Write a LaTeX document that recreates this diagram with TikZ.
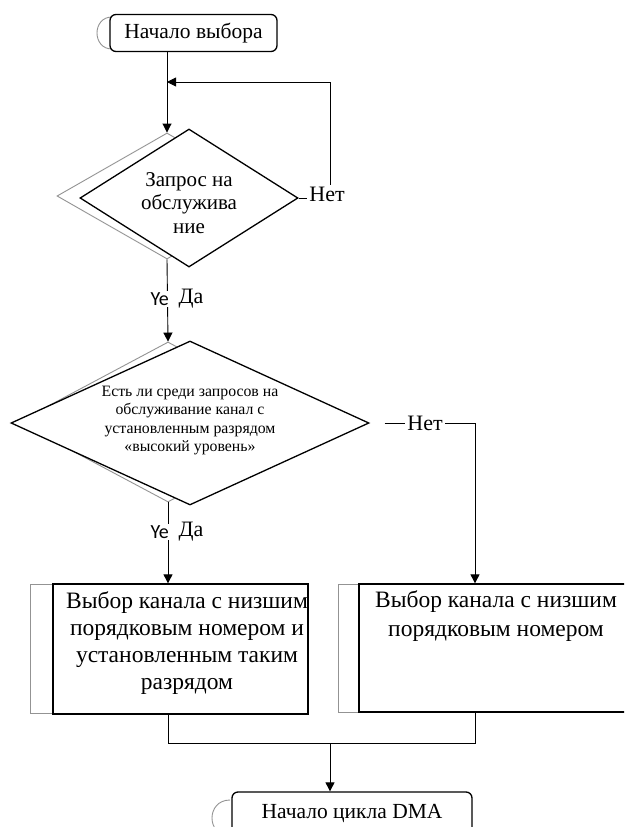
\documentclass[tikz,border=0pt]{standalone}
\usepackage{fontspec}
\setmainfont{Liberation Serif}
\newfontfamily\ghostfont{Carlito}
\usetikzlibrary{arrows.meta,shapes.geometric}
\begin{document}
\begin{tikzpicture}[x=1pt, y=-1pt, >={Triangle[length=9pt,width=9pt]},
  flow/.style={draw, line width=0.9pt},
  term/.style={draw, line width=1.3pt, rounded corners=6pt, fill=white, font=\fontsize{21.5}{24}\selectfont},
  decision/.style={diamond, draw, line width=1.3pt, fill=white, inner sep=0pt},
  procbox/.style={rectangle, draw, line width=1.3pt, fill=white, inner sep=0pt},
  ghost/.style={draw=gray!85, line width=0.9pt, inner sep=0pt},
  lbl/.style={fill=white, inner sep=2pt, font=\fontsize{22}{24}\selectfont},
  ghostlbl/.style={fill=white, inner sep=2pt, font=\ghostfont\fontsize{20}{22}\selectfont}]
\useasboundingbox (0,0) rectangle (624,827);
\clip (0,0) rectangle (624,827);
\fill[white] (0,0) rectangle (624,827);
\draw[ghost] (112,17) .. controls (92,17) and (92,49) .. (112,49);
\draw[ghost] (230,800) .. controls (206,800) and (206,836) .. (230,836);
\node[ghost, diamond, minimum width=220pt, minimum height=126pt] (q1) at (167,196) {};
\node[ghost, diamond, minimum width=300pt, minimum height=160pt] (q2) at (168,422) {};
\node[ghost, rectangle, minimum width=259pt, minimum height=129pt] (gbox1) at (160,648.5) {};
\node[ghost, rectangle, minimum width=262pt, minimum height=128pt] (gbox2) at (469,648) {};
\node[term, minimum width=167pt, minimum height=37pt] (start) at (193.5,33) {Начало выбора};
\node[decision, minimum width=218pt, minimum height=138pt] (d1) at (189,198) {};
\node[align=center, font=\fontsize{21}{23.5}\selectfont] (d1txt) at (189,203) {Запрос на\\обслужива\\ние};
\node[decision, minimum width=358pt, minimum height=164pt] (d2) at (190,423) {};
\node[align=center, font=\fontsize{15.8}{18.3}\selectfont] (d2txt) at (190,420.5) {Есть ли среди запросов на\\обслуживание канал с\\установленным разрядом\\«высокий уровень»};
\node[procbox, minimum width=255pt, minimum height=130pt] (box1) at (180.5,649) {};
\node[align=center, font=\fontsize{23.5}{27}\selectfont] (box1txt) at (187,643.5) {Выбор канала с низшим\\порядковым номером и\\установленным таким\\разрядом};
\node[procbox, minimum width=274pt, minimum height=128pt] (box2) at (496,648) {};
\node[align=center, font=\fontsize{23.5}{29}\selectfont] (box2txt) at (496,616.5) {Выбор канала с низшим\\порядковым номером};
\node[term, minimum width=240pt, minimum height=42pt] (stop) at (352,813) {Начало цикла DMA};
\coordinate (loopc) at (330,82);
\coordinate (nocorner) at (475,423);
\coordinate (merge) at (330,743);
\draw[flow, ->] (start.south -| q1.north) -- (q1.north);
\draw[flow, ->] (d1.east) -| (loopc) -- (loopc -| q1.north);
\draw[flow, ->] (q1.south) -- (q2.north);
\draw[flow, ->] ([xshift=15pt]d2.east) -- (nocorner) -- (nocorner |- box2.north);
\draw[flow, ->] (q2.south) -- (q2.south |- box1.north);
\draw[flow] (q2.south |- box1.south) |- (merge);
\draw[flow] (nocorner |- box2.south) |- (merge);
\draw[flow, ->] (merge) -- (merge |- stop.north);
\node[lbl] (no1) at (327,194) {Нет};
\node[lbl] (no2) at (425,423) {Нет};
\node[ghostlbl, anchor=east] (ye1) at (171,299) {Ye};
\node[lbl] (yes1) at (191,299) {Да};
\node[ghostlbl, anchor=east] (ye2) at (171,532) {Ye};
\node[lbl] (yes2) at (191,532) {Да};
\end{tikzpicture}
\end{document}
